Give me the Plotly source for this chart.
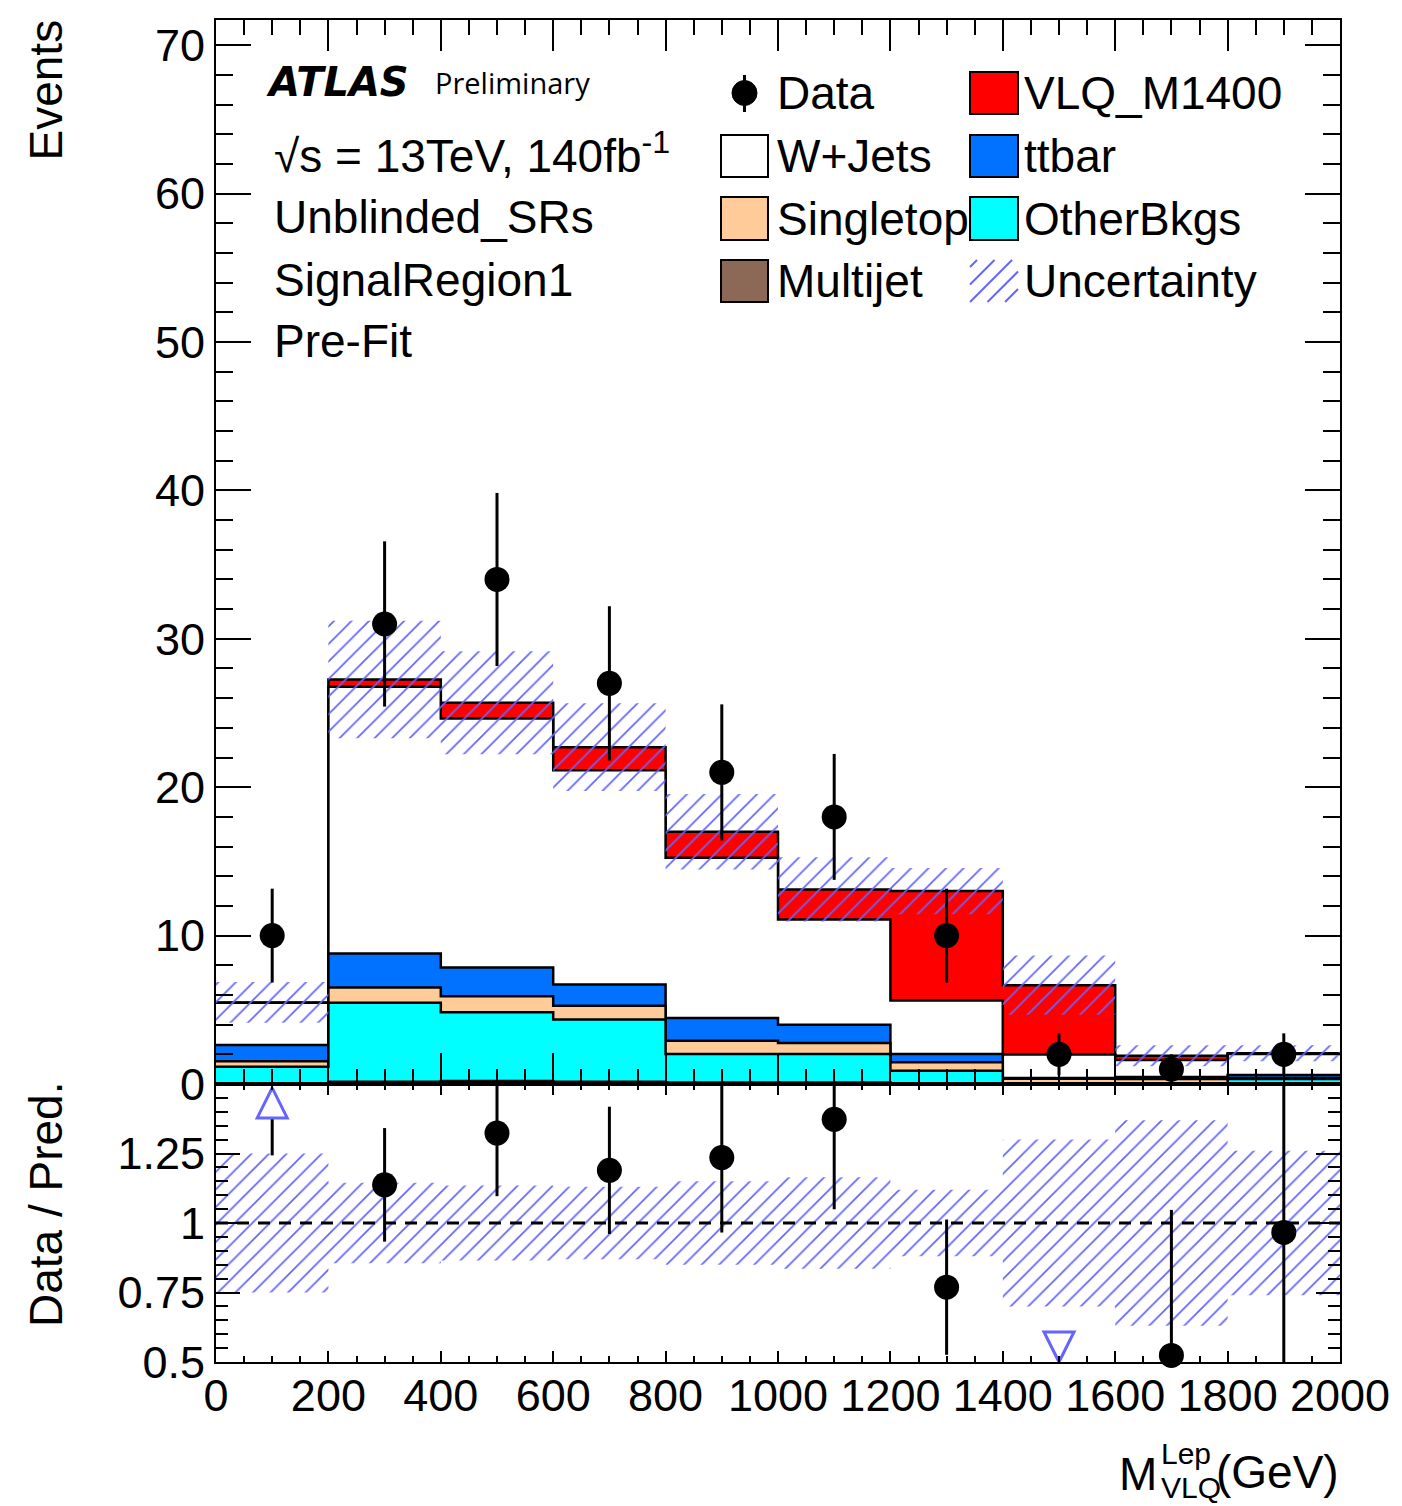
import numpy as np
import plotly.graph_objects as go

# ---- binning and per-process yields (events per 200 GeV bin) ----
edges = [0, 200, 400, 600, 800, 1000, 1200, 1400, 1600, 1800, 2000]
data = [10, 31, 34, 27, 21, 18, 10, 2, 1, 2]

multijet = [0.0, 0.15, 0.20, 0.15, 0.10, 0.10, 0.0, 0.0, 0.0, 0.0]
otherbkgs = [1.17, 5.32, 4.64, 4.19, 1.92, 1.92, 0.90, 0.0, 0.0, 0.33]
singletop = [0.36, 1.03, 1.08, 0.94, 0.90, 0.75, 0.56, 0.36, 0.34, 0.07]
ttbar = [1.10, 2.30, 1.93, 1.42, 1.53, 1.23, 0.56, 0.04, 0.13, 0.20]
wjets = [2.84, 17.97, 16.78, 14.44, 10.80, 7.09, 3.60, 1.58, 1.15, 1.42]
vlq_m1400 = [0.03, 0.49, 1.06, 1.56, 1.75, 2.02, 7.38, 4.68, 0.29, 0.05]

# relative total uncertainty on the prediction per bin
unc_frac = [0.25, 0.145, 0.135, 0.13, 0.15, 0.165, 0.12, 0.30, 0.37, 0.26]

process_names = ["Multijet", "OtherBkgs", "Singletop", "ttbar", "W+Jets", "VLQ_M1400"]
process_colors = ["rgb(140,104,86)", "rgb(0,255,255)", "rgb(255,204,153)",
                  "rgb(0,114,255)", "rgb(255,255,255)", "rgb(255,0,0)"]

y_main_max = 71.7
r_min, r_max = 0.5, 1.5

HATCH = "rgb(100,100,255)"
FONT = "Liberation Sans, Arial, Helvetica, sans-serif"

# ---- geometry helpers (pixel -> paper) ----
W, H = 1402, 1506
ML, MR, MT, MB = 216, 62, 20, 144
PW, PH = W - ML - MR, H - MT - MB
split_px = 1084
ratio_top = (H - MB - split_px) / PH


def px(x):
    return (x - ML) / PW


def py(y):
    return (H - MB - y) / PH


edges_a = np.array(edges, dtype=float)
centers = 0.5 * (edges_a[:-1] + edges_a[1:])
data_a = np.array(data, dtype=float)
data_err = np.sqrt(data_a)  # Poisson errors

stack = np.array([multijet, otherbkgs, singletop, ttbar, wjets, vlq_m1400])
cum = np.cumsum(stack, axis=0)
total = cum[-1]
unc = np.array(unc_frac)
up, down = total * (1 + unc), total * (1 - unc)

fig = go.Figure()

# stacked histograms: draw cumulative sums from the top down
for i in reversed(range(len(process_names))):
    yy = list(cum[i]) + [cum[i][-1]]
    fig.add_trace(go.Scatter(
        x=edges, y=yy, mode="lines", line=dict(color="black", width=2.5, shape="hv"),
        fill="tozeroy", fillcolor=process_colors[i], showlegend=False,
        hoverinfo="skip", xaxis="x", yaxis="y"))


def band_polygons(lo_vals, hi_vals):
    xs, ys = [], []
    for k in range(len(lo_vals)):
        x0, x1 = edges_a[k], edges_a[k + 1]
        xs += [x0, x1, x1, x0, x0, None]
        ys += [lo_vals[k], lo_vals[k], hi_vals[k], hi_vals[k], lo_vals[k], None]
    return xs, ys


pattern = dict(shape="/", fgcolor=HATCH, bgcolor="rgba(0,0,0,0)",
               size=12.4, solidity=0.14, fillmode="replace")

bx, byy = band_polygons(down, up)
fig.add_trace(go.Scatter(
    x=bx, y=byy, mode="lines", line=dict(width=0), fill="toself",
    fillcolor="rgba(0,0,0,0)", fillpattern=pattern, showlegend=False,
    hoverinfo="skip", xaxis="x", yaxis="y"))

# data points
fig.add_trace(go.Scatter(
    x=centers, y=data_a, mode="markers",
    marker=dict(color="black", size=25),
    error_y=dict(type="data", array=data_err, width=0, thickness=3, color="black"),
    showlegend=False, xaxis="x", yaxis="y"))

# ---- ratio panel ----
ratio = data_a / total
ratio_err = data_err / total

rx, ry = band_polygons(1 - unc, 1 + unc)
fig.add_trace(go.Scatter(
    x=rx, y=ry, mode="lines", line=dict(width=0), fill="toself",
    fillcolor="rgba(0,0,0,0)", fillpattern=pattern, showlegend=False,
    hoverinfo="skip", xaxis="x2", yaxis="y2"))

fig.add_trace(go.Scatter(
    x=[edges[0], edges[-1]], y=[1, 1], mode="lines",
    line=dict(color="black", width=3, dash="12px,9px"),
    showlegend=False, hoverinfo="skip", xaxis="x2", yaxis="y2"))

# arrow markers for points outside the ratio range
arrow_len = 30 / 278.0 * (r_max - r_min)
up_tip = r_max - 0.014 * (r_max - r_min)
down_tip = r_min

seg_x, seg_y = [], []
in_x, in_y = [], []
upx, downx = [], []
for c, r, e in zip(centers, ratio, ratio_err):
    lo, hi = r - e, r + e
    if r > r_max:
        upx.append(c)
        seg_x += [c, c, None]
        seg_y += [max(lo, r_min), up_tip - arrow_len, None]
    elif r < r_min:
        downx.append(c)
    else:
        in_x.append(c)
        in_y.append(r)
        seg_x += [c, c, None]
        seg_y += [max(lo, r_min), min(hi, r_max), None]

fig.add_trace(go.Scatter(
    x=seg_x, y=seg_y, mode="lines", line=dict(color="black", width=3),
    showlegend=False, hoverinfo="skip", xaxis="x2", yaxis="y2"))
fig.add_trace(go.Scatter(
    x=in_x, y=in_y, mode="markers", marker=dict(color="black", size=25),
    cliponaxis=False, showlegend=False, xaxis="x2", yaxis="y2"))
fig.add_trace(go.Scatter(
    x=upx, y=[up_tip] * len(upx), mode="markers",
    marker=dict(symbol="arrow-up-open", size=30, color=HATCH,
                line=dict(color=HATCH, width=3)),
    cliponaxis=False, showlegend=False, xaxis="x2", yaxis="y2"))
fig.add_trace(go.Scatter(
    x=downx, y=[down_tip] * len(downx), mode="markers",
    marker=dict(symbol="arrow-down-open", size=30, color=HATCH,
                line=dict(color=HATCH, width=3)),
    cliponaxis=False, showlegend=False, xaxis="x2", yaxis="y2"))

# ---- axes ----
tickfont = dict(family=FONT, size=45, color="black")
common = dict(showline=True, linecolor="black", linewidth=2, mirror="allticks",
              ticks="inside", tickcolor="black", tickwidth=2, showgrid=False,
              zeroline=False)

fig.update_layout(
    width=W, height=H, margin=dict(l=ML, r=MR, t=MT, b=MB),
    paper_bgcolor="white", plot_bgcolor="white", showlegend=False,
    xaxis=dict(domain=[0, 1], anchor="y", range=[edges[0], edges[-1]],
               tick0=0, dtick=200, ticklen=31, showticklabels=False,
               minor=dict(ticks="inside", dtick=50, ticklen=15, tickcolor="black", tickwidth=2),
               **common),
    yaxis=dict(domain=[ratio_top, 1], anchor="x", range=[0, y_main_max],
               tick0=0, dtick=10, ticklen=35, tickfont=tickfont, ticklabelstandoff=0,
               minor=dict(ticks="inside", dtick=2, ticklen=17, tickcolor="black", tickwidth=2),
               **common),
    xaxis2=dict(domain=[0, 1], anchor="y2", matches="x", range=[edges[0], edges[-1]],
                tick0=0, dtick=200, ticklen=11, tickfont=tickfont, ticklabelstandoff=-7,
                minor=dict(ticks="inside", dtick=50, ticklen=6, tickcolor="black", tickwidth=2),
                **common),
    yaxis2=dict(domain=[0, ratio_top], anchor="x2", range=[r_min, r_max],
                tickvals=[0.5, 0.75, 1, 1.25], ticktext=["0.5", "0.75", "1", "1.25"],
                ticklen=24, tickfont=tickfont, ticklabelstandoff=0,
                minor=dict(ticks="inside", dtick=0.05, ticklen=12, tickcolor="black", tickwidth=2),
                **common),
)

annotations = []
shapes = []


def text(x, y, s, size=46, xanchor="left", yanchor="middle", family=FONT, angle=0):
    annotations.append(dict(
        x=px(x), y=py(y), xref="paper", yref="paper", text=s, showarrow=False,
        xanchor=xanchor, yanchor=yanchor, textangle=angle,
        font=dict(family=family, size=size, color="black")))


# axis titles
text(46, 18, "Events", angle=-90, xanchor="center", yanchor="top")
text(46, 1205, "Data / Pred.", angle=-90, xanchor="center", yanchor="middle")
text(1159, 1474, "M", xanchor="right")
text(1159, 1453, "Lep", size=30)
text(1159, 1487, "VLQ", size=30)
text(1341, 1472, "(GeV)", xanchor="right")

# ATLAS label and region description
text(264, 82, "<b><i>ATLAS</i></b>", size=40, family="DejaVu Sans, sans-serif")
text(433, 82, "Preliminary", size=29, family="Open Sans, sans-serif")
text(272, 153, "√s = 13TeV, 140fb<sup>-1</sup>")
text(272, 217, "Unblinded_SRs")
text(272, 280, "SignalRegion1")
text(272, 341, "Pre-Fit")

# legend
rows = [(72, 114), (135, 177), (197, 240), (260, 302)]
col_box = [(721, 768), (970, 1018)]
col_text = [775, 1022]
legend_cols = [
    [("Data", None), ("W+Jets", process_colors[4]), ("Singletop", process_colors[2]),
     ("Multijet", process_colors[0])],
    [("VLQ_M1400", process_colors[5]), ("ttbar", process_colors[3]),
     ("OtherBkgs", process_colors[1]), ("Uncertainty", "hatch")],
]
for ci, entries in enumerate(legend_cols):
    x0, x1 = col_box[ci]
    for ri, (label, col) in enumerate(entries):
        y0, y1 = rows[ri]
        yc = 0.5 * (y0 + y1)
        text(col_text[ci], yc, label)
        if col is None:
            xc = 0.5 * (x0 + x1)
            shapes.append(dict(type="line", xref="paper", yref="paper",
                               x0=px(xc), x1=px(xc), y0=py(y0 + 3), y1=py(y1 - 2),
                               line=dict(color="black", width=3)))
            shapes.append(dict(type="circle", xref="paper", yref="paper",
                               x0=px(xc - 12.5), x1=px(xc + 12.5),
                               y0=py(yc - 12.5), y1=py(yc + 12.5),
                               fillcolor="black", line=dict(color="black", width=1)))
        elif col == "hatch":
            # diagonal hatch lines clipped to the swatch box
            step = 17.5
            for k in range(-4, 8):
                c = x0 + k * step  # line through (c, y1) rising to the right
                t0 = max(0, x0 - c)
                t1 = min(x1 - c, y1 - y0)
                if t1 > t0 + 2:
                    shapes.append(dict(type="line", xref="paper", yref="paper",
                                       x0=px(c + t0), y0=py(y1 - t0),
                                       x1=px(c + t1), y1=py(y1 - t1),
                                       line=dict(color=HATCH, width=2)))
        else:
            shapes.append(dict(type="rect", xref="paper", yref="paper",
                               x0=px(x0), x1=px(x1), y0=py(y1), y1=py(y0),
                               fillcolor=col, line=dict(color="black", width=2)))

fig.update_layout(annotations=annotations, shapes=shapes)
fig.write_html("out.html")
